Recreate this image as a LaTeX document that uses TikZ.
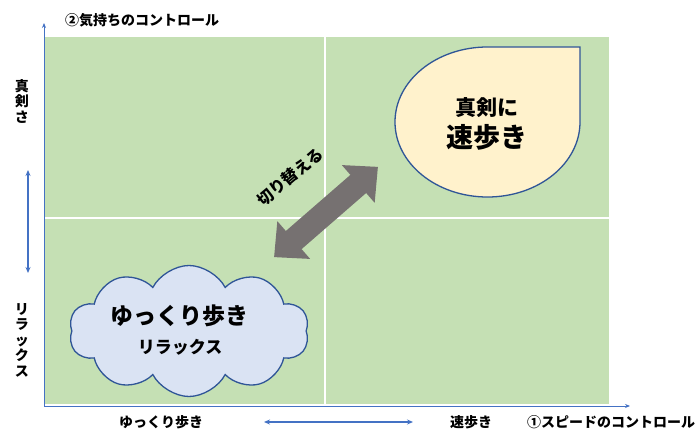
\documentclass[tikz,border=0pt]{standalone}
\usepackage{fontspec}
\setmainfont{Noto Sans CJK JP}
\usetikzlibrary{arrows.meta,shapes.symbols}
\definecolor{quadgreen}{HTML}{C5E0B4}
\definecolor{dropfill}{HTML}{FFF2CC}
\definecolor{cloudfill}{HTML}{DAE3F3}
\definecolor{shapeline}{HTML}{2F5597}
\definecolor{axisblue}{HTML}{4472C4}
\definecolor{bigarrow}{HTML}{767171}
\begin{document}
\begin{tikzpicture}[x=1pt,y=-1pt,
  axis/.style={draw=axisblue,line width=1pt,-{Stealth[length=5pt,width=4pt]}},
  dblblue/.style={draw=axisblue,line width=1.8pt,{Stealth[length=6pt,width=5pt]}-{Stealth[length=6pt,width=5pt]}},
  lbl/.style={inner sep=0pt,font=\fontsize{14}{14}\selectfont\bfseries},
  vlbl/.style={inner sep=0pt,align=center,font=\fontsize{14}{15.5}\selectfont\bfseries},
  divider/.style={draw=white,line width=2pt}]
\useasboundingbox (0,0) rectangle (697,433);
% quadrant background
\fill[quadgreen] (45,37) rectangle (609,404);
\draw[divider] (325,37) -- (325,404);
\draw[divider] (45,218) -- (609,218);
% axes
\coordinate (origin) at (44,406);
\coordinate (ytip) at (44,23);
\coordinate (xtip) at (630,406);
\draw[axis] (origin) -- (ytip);
\draw[axis] (origin) -- (xtip);
% axis labels
\node[lbl,anchor=west] (ytitle) at (65,20) {②気持ちのコントロール};
\node[lbl,anchor=west] (xtitle) at (527,422) {①スピードのコントロール};
\node[lbl] (slow) at (161,422) {ゆっくり歩き};
\node[lbl] (fast) at (471,422) {速歩き};
\node[vlbl] (serious) at (22,101) {真\\剣\\さ};
\node[vlbl] (relax) at (22,340) {リ\\ラ\\ッ\\ク\\ス};
\coordinate (va) at (28,170);
\coordinate (vb) at (28,273);
\draw[dblblue] (va) -- (vb);
\coordinate (ha) at (264,422);
\coordinate (hb) at (413,422);
\draw[dblblue] (ha) -- (hb);
% teardrop
\draw[shapeline,line width=1.3pt,fill=dropfill]
  (487.5,47) arc[start angle=-90,end angle=-360,x radius=92.5,y radius=75]
  -- (580,47) -- cycle;
\node[inner sep=0pt,font=\fontsize{21}{21}\selectfont\bfseries] (drop1) at (487,108) {真剣に};
\node[inner sep=0pt,font=\fontsize{27}{27}\selectfont\bfseries] (drop2) at (487,137) {速歩き};
% cloud
\node[cloud,cloud puffs=10,cloud puff arc=125,aspect=2,draw=shapeline,line width=1.3pt,fill=cloudfill,
  minimum width=240pt,minimum height=131pt,inner sep=0pt] (cloud) at (189,331) {};
\node[inner sep=0pt,font=\fontsize{23}{23}\selectfont\bfseries] (cloud1) at (179.5,316) {ゆっくり歩き};
\node[inner sep=0pt,font=\fontsize{17}{17}\selectfont\bfseries] (cloud2) at (180,347) {リラックス};
% big double arrow
\begin{scope}[shift={(326,212)},rotate=41]
\fill[bigarrow] (-68.75,0) -- (-42.75,25) -- (-42.75,12) -- (42.75,12) -- (42.75,25)
  -- (68.75,0) -- (42.75,-25) -- (42.75,-12) -- (-42.75,-12) -- (-42.75,-25) -- cycle;
\end{scope}
\node[inner sep=0pt,rotate=40,font=\fontsize{16}{16}\selectfont\bfseries] (switch) at (290,177) {切り替える};
\end{tikzpicture}
\end{document}
